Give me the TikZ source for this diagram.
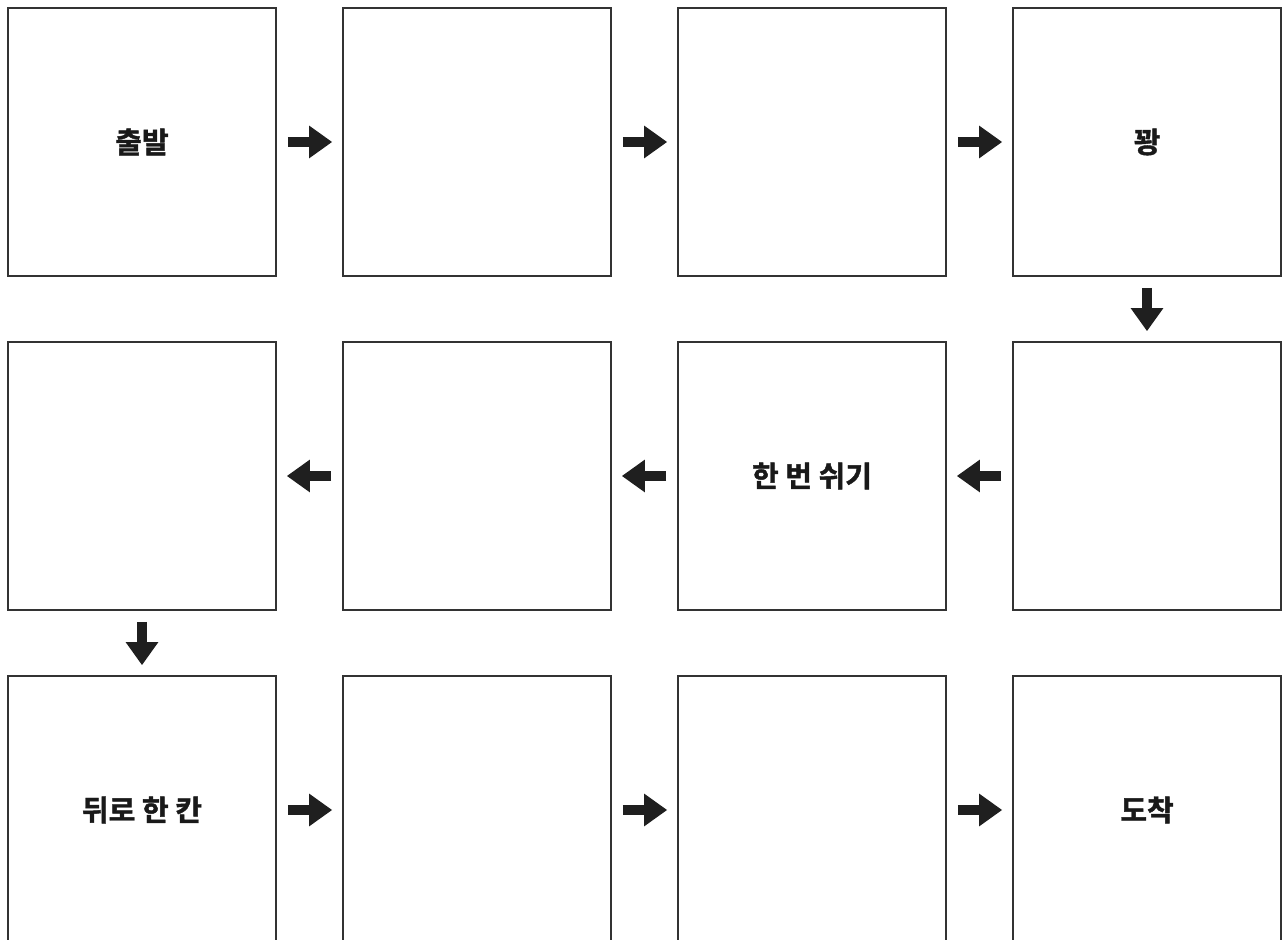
\documentclass[tikz,border=0pt]{standalone}
\usepackage{fontspec}
\newfontfamily\kr{Noto Sans CJK KR Bold}[FakeBold=1.5]
\usetikzlibrary{arrows.meta}

\begin{document}
\begin{tikzpicture}[
      cell/.style={draw=black!80,line width=0.9pt,minimum size=5.36cm,inner sep=0pt,
        font=\kr\fontsize{16.5}{19}\selectfont,text=black!90},
      go/.style={line width=0.2cm,draw=black!88,
        -{Triangle[length=0.46cm,width=0.62cm]},shorten <=0.22cm,shorten >=0.2cm}]
    \clip (0,0) rectangle (25.7,18.8);
    \node[cell] (start) at (2.84,15.96) {출발};
    \node[cell] (s2) at (9.54,15.96) {};
    \node[cell] (s3) at (16.24,15.96) {};
    \node[cell] (bang) at (22.94,15.96) {꽝};
    \node[cell] (s5) at (22.94,9.28) {};
    \node[cell] (rest) at (16.24,9.28) {한 번 쉬기};
    \node[cell] (s7) at (9.54,9.28) {};
    \node[cell] (s8) at (2.84,9.28) {};
    \node[cell] (back) at (2.84,2.6) {뒤로 한 칸};
    \node[cell] (s10) at (9.54,2.6) {};
    \node[cell] (s11) at (16.24,2.6) {};
    \node[cell] (goal) at (22.94,2.6) {도착};
    \draw[go] (start)--(s2); \draw[go] (s2)--(s3); \draw[go] (s3)--(bang);
    \draw[go] (bang)--(s5);
    \draw[go] (s5)--(rest); \draw[go] (rest)--(s7); \draw[go] (s7)--(s8);
    \draw[go] (s8)--(back);
    \draw[go] (back)--(s10); \draw[go] (s10)--(s11); \draw[go] (s11)--(goal);
  \end{tikzpicture}
\end{document}
